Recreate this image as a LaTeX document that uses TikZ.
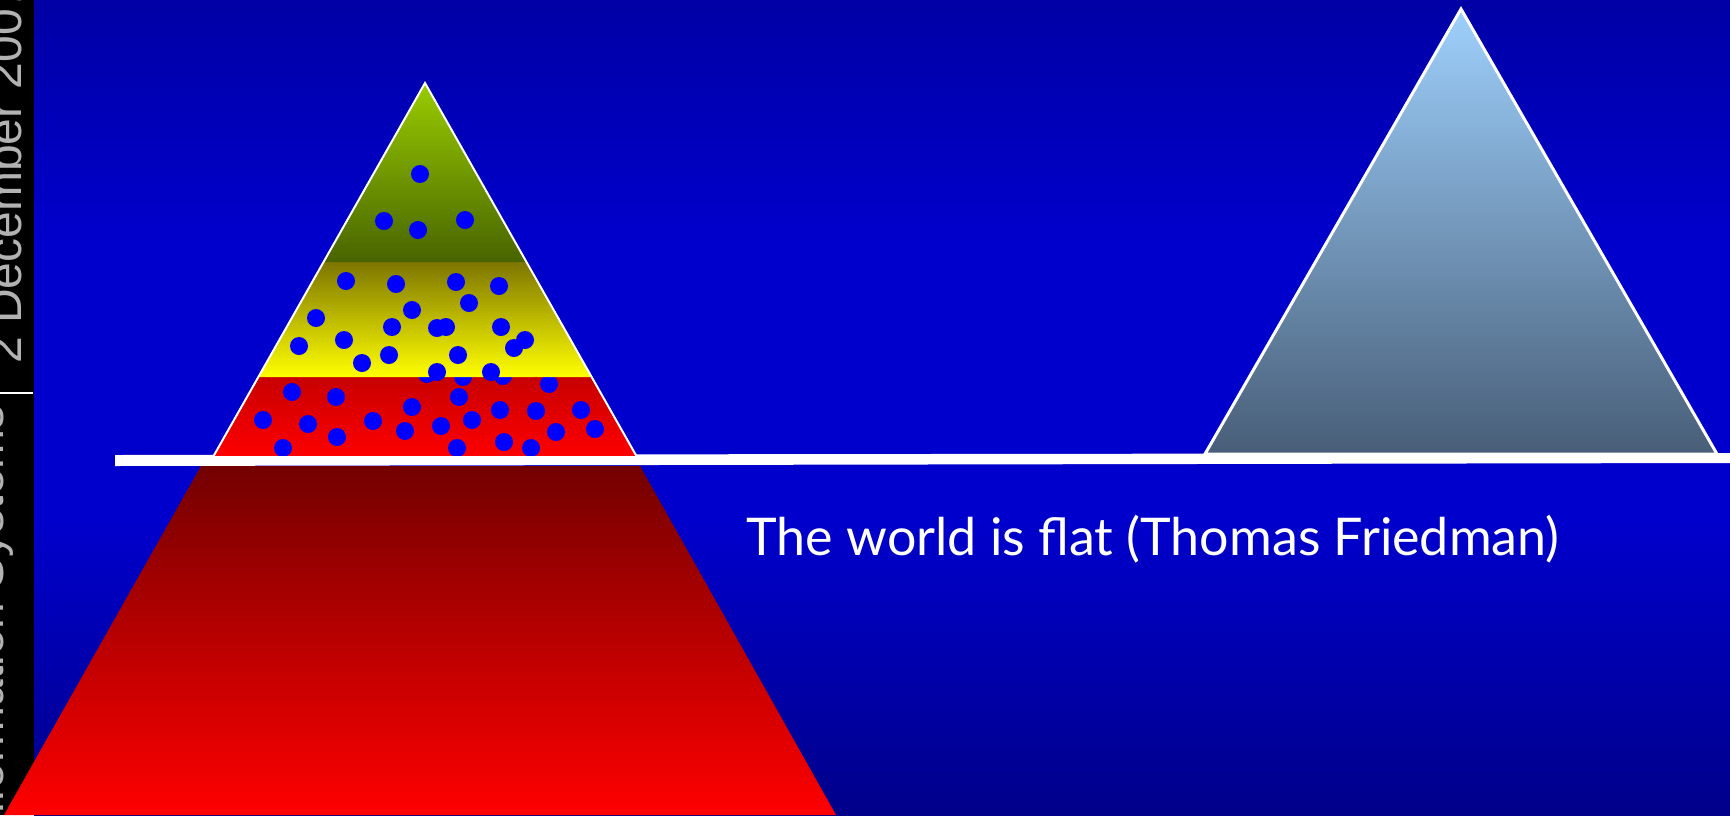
\documentclass[tikz,border=0pt]{standalone}
\usepackage{fontspec}
\usepackage{xcolor}
\usepackage{tikz}
\newfontfamily\quotefont{Lato}
\newfontfamily\stripfont{Liberation Sans}

\definecolor{basetop}{RGB}{115,0,0}
\definecolor{bandred}{RGB}{200,0,0}
\definecolor{bandolive}{RGB}{125,118,0}
\definecolor{bandlime}{RGB}{153,204,0}
\definecolor{bandmoss}{RGB}{72,100,0}
\definecolor{dotblue}{RGB}{0,0,255}
\definecolor{peaktop}{RGB}{158,208,252}
\definecolor{peakmid}{RGB}{118,158,198}
\definecolor{peakbot}{RGB}{72,94,120}
\definecolor{stripgrey}{RGB}{178,178,178}

% sky: dark at the edges, bright in the middle
\pgfdeclareverticalshading{skyfade}{100bp}{rgb(0bp)=(0,0,0.54); rgb(25bp)=(0,0,0.54);
  rgb(43bp)=(0,0,0.8); rgb(60bp)=(0,0,0.8); rgb(75bp)=(0,0,0.65); rgb(100bp)=(0,0,0.65)}

\tikzset{
  bluedot/.style={fill=dotblue},
  rim/.style={draw=white, line width=2pt},
  striptext/.style={text=stripgrey, font=\stripfont\fontsize{48}{56}\selectfont, rotate=90, inner sep=0pt},
}

\begin{document}
\begin{tikzpicture}[x=1pt, y=-1pt]
  \useasboundingbox (0,0) rectangle (1730,815);
  % sky and side strip
  \shade[shading=skyfade] (34,0) rectangle (1730,815);
  \fill[black] (0,0) rectangle (34,815);
  \begin{scope}
    \clip (0,0) rectangle (34,815);
    \node[striptext, anchor=base west] (date) at (21,364) {2 December 2007};
    \node[striptext, anchor=base east] (dept) at (3,405) {Information Systems};
  \end{scope}
  \draw[white, line width=2pt] (0,393) -- (33,393);
  % horizon
  \fill[white] (115,455) -- (1730,453) -- (1730,463) -- (115,466) -- cycle;
  % lower part of the pyramid
  \shade[top color=basetop, bottom color=red] (201,466) -- (640,466) -- (836,815) -- (4,815) -- cycle;
  % red band
  \shade[top color=bandred, bottom color=red] (213,457) -- (258,377) -- (592,377) -- (637,457) -- cycle;
  \foreach \x/\y in {427/374, 463/377, 503/376, 549/384, 292/392, 336/397, 412/407, 459/397,
      263/420, 308/424, 373/421, 405/431, 441/426, 472/420, 500/410, 536/411, 581/410,
      595/429, 556/432, 337/437, 283/448, 457/448, 504/442, 531/448}
    \fill[bluedot] (\x,\y) circle (9pt);
  % yellow band
  \shade[top color=bandolive, bottom color=yellow] (258,377) -- (323,262) -- (527,262) -- (592,377) -- cycle;
  \foreach \x/\y in {346/281, 396/284, 456/282, 499/286, 469/303, 412/310, 316/318, 392/327,
      437/328, 446/327, 501/327, 299/346, 344/340, 525/340, 514/348, 362/363, 389/355,
      458/355, 437/372, 491/372}
    \fill[bluedot] (\x,\y) circle (9pt);
  % green band
  \shade[top color=bandlime, bottom color=bandmoss] (323,262) -- (425,83) -- (527,262) -- cycle;
  \foreach \x/\y in {420/174, 384/221, 418/230, 465/220}
    \fill[bluedot] (\x,\y) circle (9pt);
  \draw[rim] (213,457) -- (425,83) -- (637,457) -- cycle;
  % flat mountain
  \shade[top color=peaktop, middle color=peakmid, bottom color=peakbot, draw=white, line width=3pt]
    (1205,454) -- (1461,9) -- (1717,454) -- cycle;
  \node[text=white, font=\quotefont\fontsize{52}{60}\selectfont, anchor=base] (quote) at (1153,555)
    {The world is flat (Thomas Friedman)};
\end{tikzpicture}
\end{document}
